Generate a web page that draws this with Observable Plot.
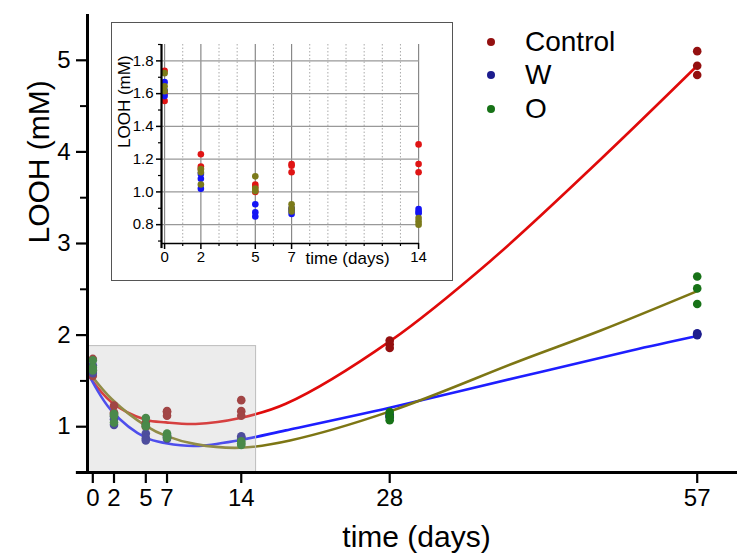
<!DOCTYPE html>
<html>
<head>
<meta charset="utf-8">
<script src="https://cdn.jsdelivr.net/npm/d3@7"></script>
<script src="https://cdn.jsdelivr.net/npm/@observablehq/plot@0.6"></script>
<style>
  body { margin: 0; background: #fff; font-family: "Liberation Sans", Arial, sans-serif; }
  #wrap { position: relative; width: 737px; height: 560px; overflow: hidden; background: #fff; }
  #inset { position: absolute; left: 111px; top: 22px; width: 340px; height: 257px; border: 1.5px solid #555; background: #fff; }
  #inset svg, #main svg { display: block; }
  .leg { position: absolute; left: 0; top: 0; }
  .leg .row { position: absolute; display: flex; align-items: center; white-space: nowrap; }
  .leg .dot { width: 8px; height: 8px; border-radius: 50%; display: inline-block; }
  .leg .lab { font-size: 28px; color: #000; margin-left: 30px; line-height: 28px; }
</style>
</head>
<body>
<div id="wrap">
  <div id="main"></div>
  <div id="inset"></div>
  <div class="leg" id="legend"></div>
</div>
<script>
// ---------- data ----------
const series = ["Control", "W", "O"];
const days = [0, 2, 5, 7, 14, 28, 57];
// three replicate LOOH (mM) readings per day
const controlLOOH = [[1.74, 1.60, 1.555], [1.23, 1.155, 1.14], [1.045, 1.03, 1.00], [1.17, 1.16, 1.12], [1.29, 1.17, 1.12], [1.94, 1.90, 1.86], [5.10, 4.94, 4.84]];
const wLOOH       = [[1.67, 1.62, 1.585], [1.02, 1.08, 1.11], [0.925, 0.875, 0.85], [0.865, 0.885, 0.90], [0.895, 0.87, 0.88], [1.13, 1.10, 1.12], [2.02, 2.00, 2.01]];
const oLOOH       = [[1.725, 1.645, 1.615], [1.14, 1.12, 1.045], [1.095, 1.02, 1.005], [0.925, 0.90, 0.88], [0.84, 0.82, 0.80], [1.16, 1.11, 1.07], [2.64, 2.51, 2.34]];

// fitted curves
const controlFitDays = [-0.4, 1.8, 5, 6.9, 9.7, 13.9, 18.2, 28.1, 37.5, 47.9, 57];
const controlFit     = [1.56, 1.265, 1.076, 1.047, 1.03, 1.095, 1.25, 1.94, 2.81, 3.92, 4.94];
const wFitDays = [-0.4, 1.8, 5, 6.9, 9.7, 13.9, 18.2, 28.1, 40.3, 50.7, 57];
const wFit     = [1.57, 1.17, 0.88, 0.82, 0.79, 0.855, 0.96, 1.21, 1.545, 1.83, 1.99];
const oFitDays = [-0.2, 1.8, 5, 6.9, 9.7, 13.9, 18.6, 28.1, 40.3, 47.9, 57];
const oFit     = [1.57, 1.30, 1.01, 0.90, 0.81, 0.77, 0.85, 1.17, 1.72, 2.05, 2.48];

// ticks
const xTicks = [0, 2, 5, 7, 14, 28, 57];
const yTicks = [1, 2, 3, 4, 5];
const yMinorTicks = [1.5, 2.5, 3.5, 4.5];
const insetXTicks = [0, 2, 5, 7, 14];
const insetXMinor = [1, 3, 4, 6, 8, 9, 10, 11, 12, 13];
const insetYTicks = [0.8, 1.0, 1.2, 1.4, 1.6, 1.8];
const insetYMinor = [0.7, 0.9, 1.1, 1.3, 1.5, 1.7, 1.9];

// colours
const dotColors   = {Control: "#941010", W: "#1c1c8e", O: "#177217"};
const lineColors  = {Control: "#e00a0a", W: "#1e1eff", O: "#7d7614"};
const insetColors = {Control: "#e01414", W: "#1414f5", O: "#7b7a1a"};

// highlighted region (zoomed in inset)
const zoomX = [-0.5, 15.4];
const zoomY = [0.5, 1.88];

// ---------- tables ----------
const valuesBySeries = {Control: controlLOOH, W: wLOOH, O: oLOOH};
const fitsBySeries = {Control: [controlFitDays, controlFit], W: [wFitDays, wFit], O: [oFitDays, oFit]};
const points = [];
for (const s of series) {
  valuesBySeries[s].forEach((reps, i) => reps.forEach(v => points.push({series: s, day: days[i], looh: v})));
}
const fits = [];
for (const s of series) {
  const [dx, vy] = fitsBySeries[s];
  dx.forEach((d, i) => fits.push({series: s, day: d, looh: vy[i]}));
}
const font = "'Liberation Sans', Arial, sans-serif";

// ---------- main chart ----------
const xDom = [-0.5, 60.8];
const yDom = [0.5, 5.5];
const mainMarks = [];
for (const s of series) {
  mainMarks.push(Plot.line(fits.filter(d => d.series === s), {x: "day", y: "looh", stroke: lineColors[s], strokeWidth: 2.6, curve: "catmull-rom"}));
}
for (const s of series) {
  mainMarks.push(Plot.dot(points.filter(d => d.series === s), {x: "day", y: "looh", fill: dotColors[s], r: 4.3}));
}
const main = Plot.plot({
  width: 737, height: 560,
  marginLeft: 87, marginRight: 0, marginTop: 14, marginBottom: 88,
  x: {domain: xDom},
  y: {domain: yDom},
  style: {fontFamily: font, background: "white", color: "#000"},
  marks: [
    ...mainMarks,
    Plot.rect([zoomX], {x1: d => d[0], x2: d => d[1], y1: zoomY[0], y2: zoomY[1], fill: "#c0c0c0", fillOpacity: 0.3, stroke: "#bdbdbd", strokeWidth: 1}),
    Plot.axisY({ticks: yTicks, tickSize: 11, tickPadding: 6, fontSize: 24, tickFormat: d3.format("d"), label: null, strokeWidth: 2.2}),
    Plot.axisY({ticks: yMinorTicks, tickSize: 7, tickFormat: () => "", label: null, strokeWidth: 2}),
    Plot.axisX({ticks: xTicks, tickSize: 11, tickPadding: 5, fontSize: 24, label: null, strokeWidth: 2.2}),
    Plot.ruleX([xDom[0]], {y1: yDom[0], y2: yDom[1], strokeWidth: 3, stroke: "#000"}),
    Plot.ruleY([yDom[0]], {x1: -1.55, x2: xDom[1], strokeWidth: 3, stroke: "#000"}),
    Plot.text(["LOOH (mM)"], {frameAnchor: "left", rotate: -90, dx: -48, fontSize: 30, fill: "#000"}),
    Plot.text(["time (days)"], {frameAnchor: "bottom", dx: 4, dy: 74, fontSize: 30, fill: "#000"})
  ]
});
document.getElementById("main").appendChild(main);

// ---------- inset ----------
const ixDom = [-0.17, 14.05];
const iyDom = [0.685, 1.9];
const insetPoints = points.filter(d => d.day <= 14);
const insetMarks = [];
for (const s of series) {
  insetMarks.push(Plot.dot(insetPoints.filter(d => d.series === s), {x: "day", y: "looh", fill: insetColors[s], r: 3.3}));
}
const inset = Plot.plot({
  width: 340, height: 257,
  marginLeft: 49, marginRight: 33, marginTop: 21, marginBottom: 37,
  x: {domain: ixDom},
  y: {domain: iyDom},
  style: {fontFamily: font, background: "white", color: "#000"},
  marks: [
    Plot.gridX(insetXMinor, {stroke: "#aaa", strokeOpacity: 1, strokeDasharray: "1.5,2"}),
    Plot.gridX(insetXTicks, {stroke: "#888", strokeOpacity: 1, strokeWidth: 1.2}),
    Plot.gridY(insetYTicks, {stroke: "#999", strokeOpacity: 1, strokeWidth: 1.2}),
    ...insetMarks,
    Plot.axisY({ticks: insetYTicks, tickSize: 5, tickPadding: 3, fontSize: 15, tickFormat: d3.format(".1f"), label: null, strokeWidth: 1.5}),
    Plot.axisY({ticks: insetYMinor, tickSize: 3, tickFormat: () => "", label: null, strokeWidth: 1.2}),
    Plot.axisX({ticks: insetXTicks, tickSize: 6, tickPadding: 2, fontSize: 15, label: null, strokeWidth: 1.5}),
    Plot.axisX({ticks: insetXMinor, tickSize: 3, tickFormat: () => "", label: null, strokeWidth: 1.2}),
    Plot.ruleX([ixDom[0]], {y1: 0.654, y2: iyDom[1], strokeWidth: 2.2, stroke: "#000"}),
    Plot.ruleY([iyDom[0]], {x1: ixDom[0], x2: ixDom[1], strokeWidth: 1.6, stroke: "#000"}),
    Plot.text(["LOOH (mM)"], {frameAnchor: "left", rotate: -90, dx: -37, dy: 4, fontSize: 17, fill: "#000"}),
    Plot.text(["time (days)"], {frameAnchor: "bottom", dx: 57, dy: 20, fontSize: 17, fill: "#000"})
  ]
});
document.getElementById("inset").appendChild(inset);

// ---------- legend ----------
const legend = document.getElementById("legend");
const legendTop = [42, 75, 109];
series.forEach((s, i) => {
  const row = document.createElement("div");
  row.className = "row";
  row.style.left = "487px";
  row.style.top = (legendTop[i] - 14) + "px";
  row.style.height = "28px";
  const dot = document.createElement("span");
  dot.className = "dot";
  dot.style.background = dotColors[s];
  const lab = document.createElement("span");
  lab.className = "lab";
  lab.textContent = s;
  row.appendChild(dot);
  row.appendChild(lab);
  legend.appendChild(row);
});
</script>
</body>
</html>
